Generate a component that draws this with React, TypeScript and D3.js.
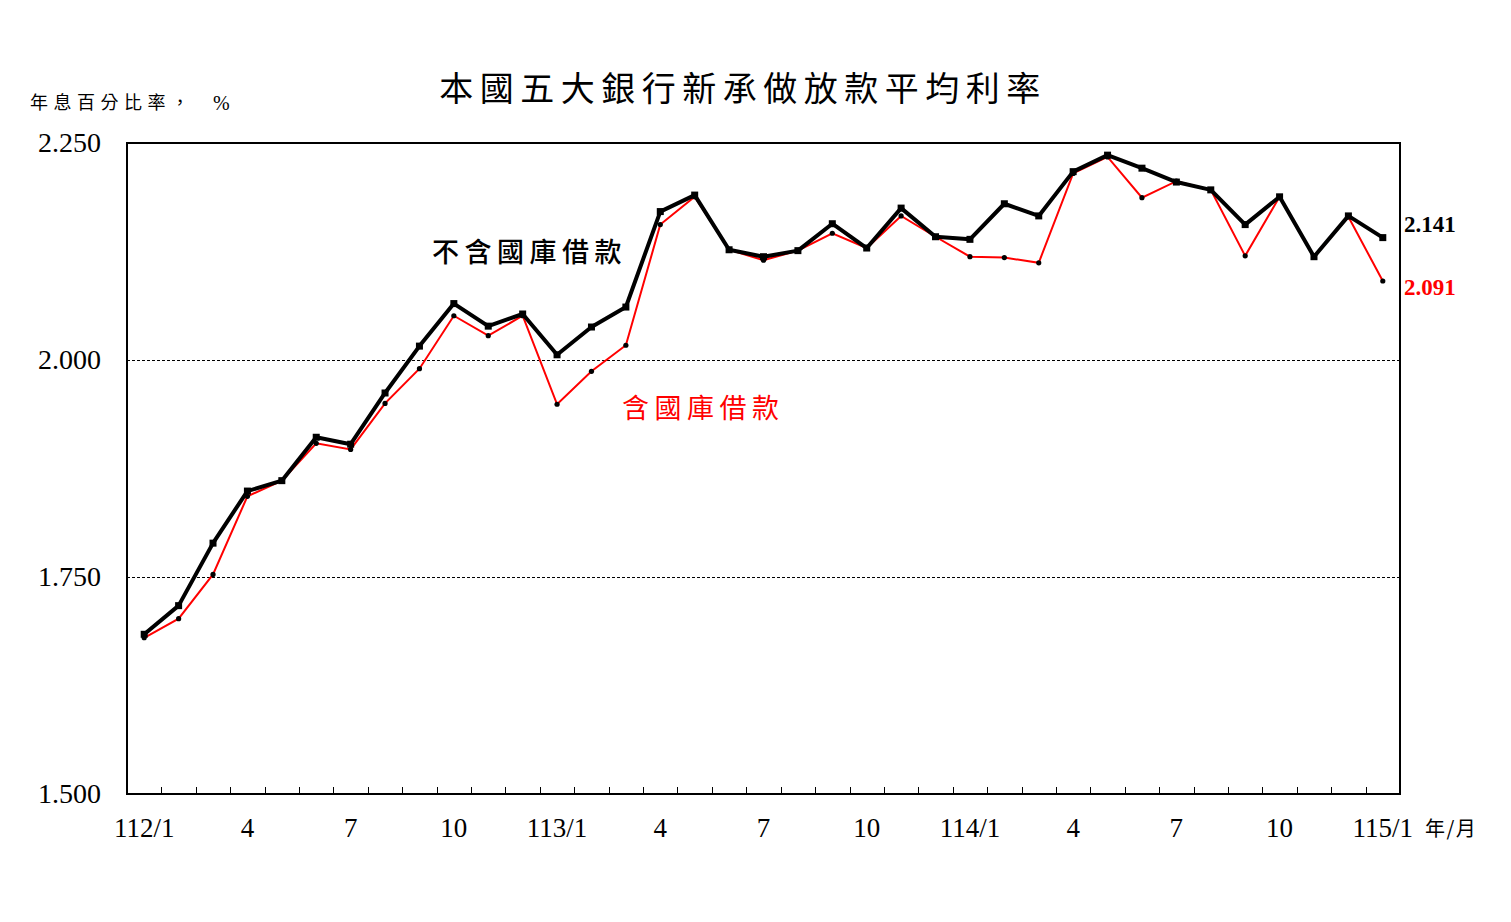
import * as d3 from 'd3';

// 月份: 112/1 ~ 115/1
const months: string[] = [
  '112/1', '2', '3', '4', '5', '6', '7', '8', '9', '10', '11', '12',
  '113/1', '2', '3', '4', '5', '6', '7', '8', '9', '10', '11', '12',
  '114/1', '2', '3', '4', '5', '6', '7', '8', '9', '10', '11', '12',
  '115/1',
];

// 不含國庫借款
const excludingTreasury: number[] = [
  1.684, 1.717, 1.789, 1.849, 1.861, 1.911, 1.903, 1.962, 2.016, 2.065, 2.039, 2.053,
  2.006, 2.038, 2.061, 2.171, 2.190, 2.127, 2.119, 2.126, 2.157, 2.129, 2.175, 2.142,
  2.139, 2.180, 2.166, 2.217, 2.236, 2.221, 2.205, 2.196, 2.156, 2.188, 2.119, 2.166,
  2.141,
];

// 含國庫借款
const includingTreasury: number[] = [
  1.680, 1.702, 1.753, 1.843, 1.861, 1.904, 1.897, 1.950, 1.990, 2.051, 2.028, 2.051,
  1.949, 1.987, 2.017, 2.156, 2.188, 2.127, 2.115, 2.126, 2.146, 2.129, 2.166, 2.142,
  2.119, 2.118, 2.112, 2.215, 2.234, 2.187, 2.206, 2.196, 2.120, 2.188, 2.119, 2.165,
  2.091,
];

const yTicks: number[] = [1.5, 1.75, 2.0, 2.25];
const gridValues: number[] = [1.75, 2.0];

const W = 1511;
const H = 922;
const left = 127;
const right = 1400;
const top = 143;
const bottom = 794;

const serif = '"Liberation Serif", "Times New Roman", serif';
const cjk = '"Noto Sans CJK TC", "Noto Sans CJK SC", sans-serif';

export default function App() {
  const x = d3.scaleBand<number>()
    .domain(months.map((_, i) => i))
    .range([left, right]);
  const y = d3.scaleLinear().domain([1.5, 2.25]).range([bottom, top]);
  const cx = (i: number) => (x(i) ?? 0) + x.bandwidth() / 2;

  const line = d3.line<number>()
    .x((_, i) => cx(i))
    .y(d => y(d));

  const lastIdx = months.length - 1;

  return (
    <svg width={W} height={H} style={{ position: 'absolute', left: 0, top: 0, background: '#fff' }}>
      {/* title */}
      <text x={743} y={101} textAnchor="middle" fontFamily={cjk} fontSize={34} letterSpacing={6.5}>
        本國五大銀行新承做放款平均利率
      </text>
      <text x={30} y={109} fontFamily={cjk} fontSize={18} letterSpacing={5.5}>
        年息百分比率，
      </text>
      <text x={213} y={110} fontFamily={serif} fontSize={20}>%</text>

      {/* grid */}
      {gridValues.map(v => (
        <line key={v} x1={left} x2={right} y1={Math.round(y(v)) + 0.5} y2={Math.round(y(v)) + 0.5}
          stroke="#000" strokeWidth={1} strokeDasharray="3,2" shapeRendering="crispEdges" />
      ))}

      {/* x ticks */}
      {months.slice(1).map((_, k) => {
        const xx = Math.round(x(k + 1) ?? 0) + 0.5;
        return <line key={k} x1={xx} x2={xx} y1={bottom} y2={bottom - 7} stroke="#000" strokeWidth={1} shapeRendering="crispEdges" />;
      })}

      {/* frame */}
      <rect x={left} y={top} width={right - left} height={bottom - top}
        fill="none" stroke="#000" strokeWidth={2} />

      {/* y labels */}
      {yTicks.map(v => (
        <text key={v} x={101} y={y(v) + 9} textAnchor="end" fontFamily={serif} fontSize={28}>
          {d3.format('.3f')(v)}
        </text>
      ))}

      {/* x labels */}
      {months.map((m, i) => (i % 3 === 0 ? (
        <text key={i} x={cx(i)} y={837} textAnchor="middle" fontFamily={serif} fontSize={27}>
          {m}
        </text>
      ) : null))}
      <text x={1425} y={836} fontFamily={cjk} fontSize={20} letterSpacing={1.5}>年/月</text>

      {/* 含國庫借款 */}
      <path d={line(includingTreasury) ?? ''} fill="none" stroke="#ff0000" strokeWidth={2} />
      {includingTreasury.map((v, i) => (
        <circle key={i} cx={cx(i)} cy={y(v)} r={2.6} fill="#000" />
      ))}

      {/* 不含國庫借款 */}
      <path d={line(excludingTreasury) ?? ''} fill="none" stroke="#000" strokeWidth={4} strokeLinejoin="round" />
      {excludingTreasury.map((v, i) => (
        <rect key={i} x={cx(i) - 3.5} y={y(v) - 3.5} width={7} height={7} fill="#000" />
      ))}

      {/* series labels */}
      <text x={432} y={262} fontFamily={cjk} fontSize={27} fontWeight={500} letterSpacing={5.5}>
        不含國庫借款
      </text>
      <text x={622} y={418} fontFamily={cjk} fontSize={27} fill="#ff0000" letterSpacing={5.5}>
        含國庫借款
      </text>

      {/* last values */}
      <text x={1404} y={y(excludingTreasury[lastIdx]) - 6} fontFamily={serif} fontSize={23} fontWeight="bold">
        {excludingTreasury[lastIdx].toFixed(3)}
      </text>
      <text x={1404} y={y(includingTreasury[lastIdx]) + 14} fontFamily={serif} fontSize={23} fontWeight="bold" fill="#ff0000">
        {includingTreasury[lastIdx].toFixed(3)}
      </text>
    </svg>
  );
}
